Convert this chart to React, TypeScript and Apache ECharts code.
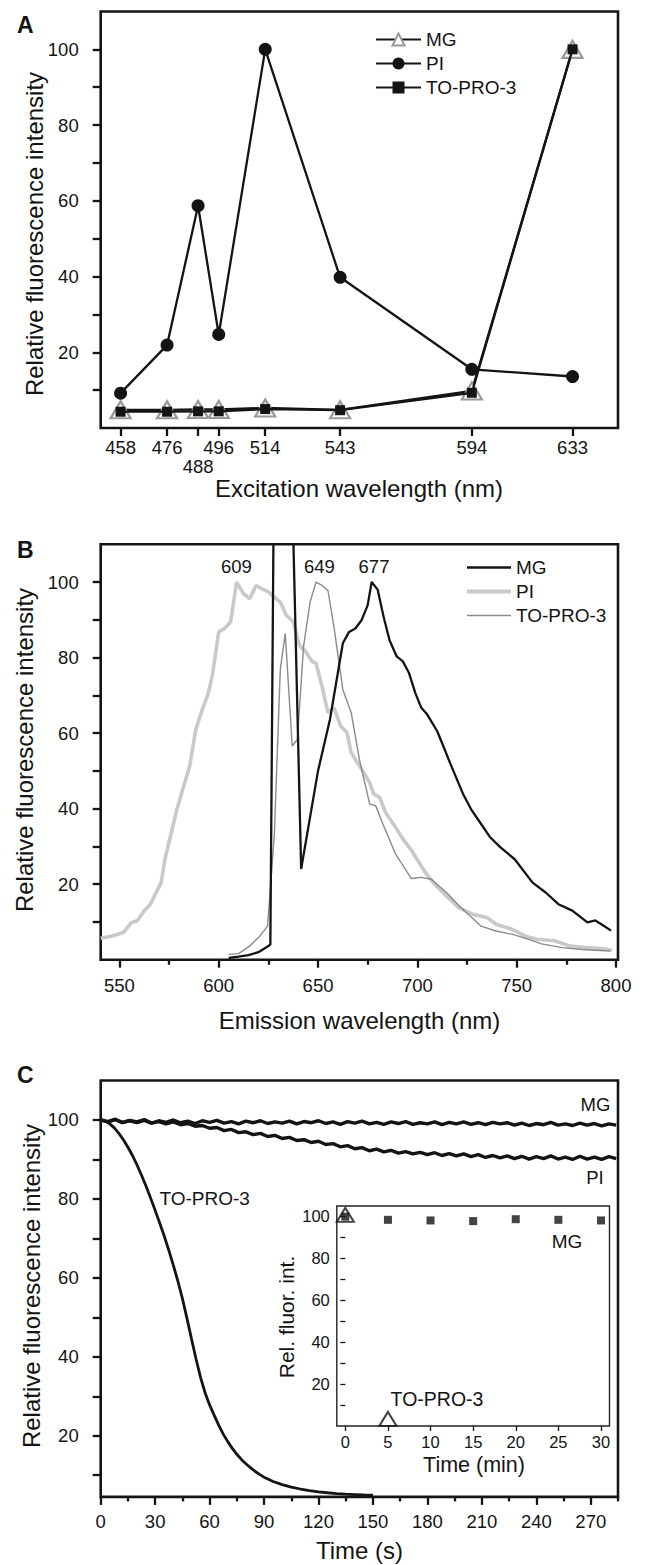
import React, { useEffect, useRef } from 'react';
import * as echarts from 'echarts';

const FONT = '"Liberation Sans", Arial, Helvetica, sans-serif';
const INK = '#141414';

// ---------- Panel A: excitation ----------
const exWavelengths = [458, 476, 488, 496, 514, 543, 594, 633];
const exMG = [4.8, 4.8, 4.9, 4.9, 5.3, 4.8, 9.8, 100];
const exPI = [9.2, 21.9, 58.7, 24.7, 100, 39.8, 15.5, 13.6];
const exTOPRO3 = [4.3, 4.3, 4.4, 4.4, 5.0, 4.7, 9.3, 100];
const yTicksMain = [10, 20, 30, 40, 50, 60, 70, 80, 90, 100];
const yLabelsMain = [20, 40, 60, 80, 100];

// ---------- Panel B: emission spectra [nm, value] ----------
const emMG = [
  [605, 0.5], [610, 0.8], [615, 1.2], [620, 2], [624, 3.3], [626, 4], [630, 280],
  [641.5, 24], [650, 50], [656, 63.6], [662.5, 83.8], [665.6, 86.8], [668.8, 87.7],
  [671.9, 89.9], [675, 93.9], [677, 100], [680, 98], [683, 90.8], [686, 84.6],
  [689.6, 80.3], [692.7, 79], [695.8, 75.9], [699, 70.6], [702, 66.7], [705, 64.9],
  [710, 60.5], [713.5, 56], [716.7, 51.8], [723, 43.9], [727, 39.9], [732, 36],
  [736.5, 32.5], [741.7, 29.8], [749, 26.6], [758, 20.4], [764.6, 17.8], [771, 14.7],
  [778, 13], [785.6, 9.9], [789.6, 10.4], [793.8, 9], [797.5, 7.7]
];
const emPI = [
  [540.6, 5.7], [546, 6.2], [552, 7.2], [556, 9.8], [559, 10.3], [562.5, 12.9], [565.6, 14.7],
  [571, 20.4], [573, 26.8], [579, 39.9], [585.4, 51.3], [588.5, 61], [591.7, 66.2],
  [594.8, 70.6], [597, 75.9], [600, 86.8], [603, 87.7], [606, 89.5], [609, 100],
  [612.5, 96.9], [615.6, 95.6], [618.8, 99.1], [621.9, 98.2], [625, 97.4], [628, 96],
  [631, 94.7], [634, 91.2], [637.5, 89.5], [640.6, 83.3], [643.8, 81.6], [646.9, 79],
  [649, 78.5], [652, 72.4], [655, 65.4], [658, 66.7], [661.5, 61.8], [664.6, 60.1],
  [666.7, 54.8], [669.8, 52.2], [673, 49.6], [676, 46.9], [678, 43.9], [681, 43],
  [684, 39], [688.5, 35.5], [692.7, 32], [697, 29], [704, 23.1], [708, 20.4],
  [714.6, 16.9], [720.8, 13.8], [728, 12], [735, 11.2], [739.6, 9.4], [748, 8],
  [754, 6.3], [760, 5.4], [769, 5], [777, 3.6], [785, 3.2], [794, 2.9], [798, 2.5]
];
const emTOPRO3 = [
  [605, 1.4], [610, 1.6], [615.6, 3.6], [620.8, 6.3], [624.6, 8.9], [628, 33],
  [631, 76.8], [633.5, 86.4], [637, 56.6], [639.6, 58.3], [642.7, 82.9], [646, 94.7],
  [649, 100], [652, 99.1], [655, 97.8], [658, 88.2], [662.5, 71.5], [666.7, 65.4],
  [670.8, 53.1], [676, 41.2], [679, 40.8], [683, 35.5], [689, 28], [697, 21.5],
  [702, 21.8], [707, 21.3], [714.6, 17.8], [721.9, 13.8], [732, 8.9], [739.6, 7.6],
  [748, 6.7], [756, 5.4], [762.5, 4.2], [773, 3.2], [783, 2.7], [797, 2.3]
];
const emTicks = [550, 600, 650, 700, 750, 800];
const emMinorTicks = [575, 625, 675, 725, 775];

// ---------- Panel C: photobleaching ----------
const tTrace = [
  0, 4, 8, 12, 16, 20, 24, 28, 32, 36, 40, 44, 48, 52, 56, 60, 64, 68, 72, 76, 80, 84, 88, 92,
  96, 100, 104, 108, 112, 116, 120, 124, 128, 132, 136, 140, 144, 148, 152, 156, 160, 164,
  168, 172, 176, 180, 184, 188, 192, 196, 200, 204, 208, 212, 216, 220, 224, 228, 232, 236,
  240, 244, 248, 252, 256, 260, 264, 268, 272, 276, 280, 284
];
const traceMG = [
  100.0, 99.6, 100.2, 99.3, 99.9, 99.5, 100.1, 99.2, 99.8, 99.4, 100.0, 99.3, 99.7, 99.1,
  99.8, 99.4, 99.9, 99.2, 99.6, 99.0, 99.7, 99.3, 99.8, 99.1, 99.5, 99.2, 99.7, 99.0, 99.6,
  99.3, 99.8, 99.1, 99.5, 98.9, 99.6, 99.2, 99.7, 99.0, 99.4, 98.9, 99.5, 99.1, 99.6, 98.9,
  99.3, 99.0, 99.5, 98.8, 99.4, 99.0, 99.5, 98.9, 99.3, 98.8, 99.4, 99.0, 99.3, 98.7, 99.2,
  98.6, 99.1, 98.8, 99.4, 98.7, 99.0, 98.6, 99.2, 98.7, 99.1, 98.5, 99.0, 98.7
];
const tracePI = [
  100.0, 99.5, 100.1, 99.4, 99.8, 99.3, 99.9, 99.2, 99.6, 99.0, 99.5, 98.8, 99.1, 98.4,
  98.6, 97.9, 98.1, 97.3, 97.6, 96.8, 97.0, 96.3, 96.6, 95.8, 96.1, 95.3, 95.6, 94.8, 95.0,
  94.3, 94.6, 93.8, 94.0, 93.2, 93.5, 92.7, 93.0, 92.2, 92.6, 91.9, 92.3, 91.6, 92.0, 91.4,
  91.8, 91.2, 91.7, 91.0, 91.5, 90.9, 91.4, 90.7, 91.2, 90.5, 91.0, 90.4, 90.9, 90.2, 90.8,
  90.1, 90.7, 90.2, 90.9, 90.1, 90.6, 90.0, 90.8, 90.1, 90.6, 90.0, 90.7, 90.2
];
const tTOPRO3 = [
  0, 2.5, 5, 7.5, 10, 12.5, 15, 17.5, 20, 22.5, 25, 27.5, 30, 32.5, 35, 37.5, 40, 42.5, 45,
  47.5, 50, 52.5, 55, 57.5, 60, 62.5, 65, 67.5, 70, 72.5, 75, 77.5, 80, 82.5, 85, 87.5, 90,
  95, 100, 105, 110, 115, 120, 125, 130, 135, 140, 145, 150
];
const bleachTOPRO3 = [
  100, 99.7, 99.0, 98.0, 96.6, 95.0, 93.1, 91.0, 88.6, 86.0, 83.2, 80.2, 77.1, 73.9, 70.6,
  67.0, 63.2, 59.2, 54.8, 49.8, 44.6, 39.5, 34.8, 30.9, 27.8, 25.2, 22.7, 20.4, 18.5, 16.8,
  15.3, 14.0, 12.9, 11.9, 11.0, 10.2, 9.5, 8.4, 7.6, 7.0, 6.5, 6.1, 5.8, 5.55, 5.35, 5.2,
  5.1, 5.0, 4.95
];
const timeTicks = [0, 30, 60, 90, 120, 150, 180, 210, 240, 270];
const timeMinorTicks = [15, 45, 75, 105, 135, 165, 195, 225, 255, 285];

// ---------- Inset ----------
const insetTime = [0, 5, 10, 15, 20, 25, 30];
const insetMG = [99.9, 98.4, 98.1, 97.8, 98.7, 98.4, 98.1];
const insetTOTime = [0, 5];
const insetTOPRO3 = [100.8, 3.4];
const insetXTicks = [0, 5, 10, 15, 20, 25, 30];

const pairs = (xs: number[], ys: number[]) => xs.map((x, i) => [x, ys[i]]);

function txt(text: string, x: number, y: number, size: number, opts: any = {}) {
  return {
    type: 'text',
    x,
    y,
    rotation: opts.rot ? Math.PI / 2 : 0,
    silent: true,
    z: 100,
    style: {
      text,
      fill: INK,
      font: `${opts.bold ? 'bold ' : ''}${size}px ${FONT}`,
      fontSize: size,
      fontFamily: FONT,
      fontWeight: opts.bold ? 'bold' : 'normal',
      align: opts.align || 'center',
      textAlign: opts.align || 'center',
      verticalAlign: 'middle',
      textVerticalAlign: 'middle'
    }
  };
}

const lineIcon = (w: number) => `path://M0 0H44V${w}H0Z`;

function buildOption(): any {
  const labelText = { color: INK, fontFamily: FONT, fontSize: 18.5 };
  const tickLine = { color: INK, width: 2.3 };
  const gridBorder = { show: true, borderColor: INK, borderWidth: 2.6, backgroundColor: 'transparent' };
  const base = { type: 'value', axisLine: { show: false }, splitLine: { show: false } };

  const mainY = (gi: number, min: number) => ({
    ...base, gridIndex: gi, min, max: 110,
    axisTick: { show: true, length: 8, lineStyle: tickLine, customValues: yTicksMain },
    axisLabel: { ...labelText, margin: 22, customValues: yLabelsMain }
  });

  return {
    animation: false,
    backgroundColor: '#ffffff',
    textStyle: { fontFamily: FONT, color: INK },
    grid: [
      { left: 100.7, top: 11.5, width: 517.3, height: 416.5, ...gridBorder },
      { left: 100.7, top: 544.3, width: 517.3, height: 415.4, ...gridBorder },
      { left: 100.7, top: 1080.5, width: 517.3, height: 416.4, ...gridBorder },
      { left: 336.8, top: 1206, width: 272.7, height: 220, show: true, borderColor: '#222', borderWidth: 1.4, backgroundColor: '#fff' }
    ],
    xAxis: [
      {
        ...base, gridIndex: 0, min: 450.3, max: 650.6,
        axisTick: { show: true, length: 8, lineStyle: tickLine, customValues: exWavelengths },
        axisLabel: {
          ...labelText, margin: 10, lineHeight: 19, customValues: exWavelengths,
          formatter: (v: number) => (v === 488 ? '\n488' : String(v))
        }
      },
      {
        ...base, gridIndex: 1, min: 540.6, max: 801,
        axisTick: { show: true, length: 8, lineStyle: tickLine, customValues: emTicks },
        axisLabel: { ...labelText, margin: 16, customValues: emTicks }
      },
      {
        ...base, gridIndex: 1, min: 540.6, max: 801, position: 'bottom',
        axisTick: { show: true, length: 5, lineStyle: tickLine, customValues: emMinorTicks },
        axisLabel: { show: false }
      },
      {
        ...base, gridIndex: 2, min: 0, max: 285,
        axisTick: { show: true, length: 8, lineStyle: tickLine, customValues: timeTicks },
        axisLabel: { ...labelText, margin: 15.5, customValues: timeTicks }
      },
      {
        ...base, gridIndex: 2, min: 0, max: 285, position: 'bottom',
        axisTick: { show: true, length: 4.5, lineStyle: tickLine, customValues: timeMinorTicks },
        axisLabel: { show: false }
      },
      {
        ...base, gridIndex: 3, min: -1, max: 31,
        axisTick: { show: true, length: 5, lineStyle: { color: INK, width: 1.3 }, customValues: insetXTicks },
        axisLabel: { color: INK, fontFamily: FONT, fontSize: 16.5, margin: 7.5, customValues: insetXTicks }
      }
    ],
    yAxis: [
      mainY(0, 0),
      mainY(1, 0),
      mainY(2, 4.5),
      {
        ...base, gridIndex: 3, min: 0, max: 105,
        axisTick: { show: true, length: 5, lineStyle: { color: INK, width: 1.3 }, customValues: yTicksMain },
        axisLabel: { color: INK, fontFamily: FONT, fontSize: 16.5, margin: 7, customValues: yLabelsMain }
      }
    ],
    legend: [
      {
        data: ['MG', 'PI', 'TO-PRO-3'], orient: 'vertical', left: 370, top: 25,
        itemWidth: 45, itemHeight: 15, itemGap: 5, selectedMode: false,
        textStyle: { color: INK, fontFamily: FONT, fontSize: 19 }
      },
      {
        data: [
          { name: 'MG ', icon: lineIcon(2.4) },
          { name: 'PI ', icon: lineIcon(3.8) },
          { name: 'TO-PRO-3 ', icon: lineIcon(1.4) }
        ],
        orient: 'vertical', left: 462, top: 553, symbolKeepAspect: true,
        itemWidth: 44, itemHeight: 14, itemGap: 5, selectedMode: false,
        formatter: (n: string) => n.trim(),
        textStyle: { color: INK, fontFamily: FONT, fontSize: 19 }
      }
    ],
    series: [
      // Panel A
      {
        name: 'MG', type: 'line', xAxisIndex: 0, yAxisIndex: 0, data: pairs(exWavelengths, exMG),
        symbol: 'triangle', symbolSize: [20, 17],
        itemStyle: { color: '#ffffff', borderColor: '#9a9a9a', borderWidth: 2.2 },
        lineStyle: { color: INK, width: 2.3 }, z: 2
      },
      {
        name: 'PI', type: 'line', xAxisIndex: 0, yAxisIndex: 0, data: pairs(exWavelengths, exPI),
        symbol: 'circle', symbolSize: 13, itemStyle: { color: INK },
        lineStyle: { color: INK, width: 2.3 }, z: 3
      },
      {
        name: 'TO-PRO-3', type: 'line', xAxisIndex: 0, yAxisIndex: 0, data: pairs(exWavelengths, exTOPRO3),
        symbol: 'rect', symbolSize: 10, itemStyle: { color: INK },
        lineStyle: { color: INK, width: 2.3 }, z: 4
      },
      // Panel B
      {
        name: 'PI ', type: 'line', xAxisIndex: 1, yAxisIndex: 1, data: emPI, symbol: 'none',
        itemStyle: { color: '#c9c9c9' }, lineStyle: { color: '#c9c9c9', width: 3.6 }, z: 2
      },
      {
        name: 'TO-PRO-3 ', type: 'line', xAxisIndex: 1, yAxisIndex: 1, data: emTOPRO3, symbol: 'none',
        itemStyle: { color: '#8a8a8a' }, lineStyle: { color: '#8a8a8a', width: 1.4 }, z: 3
      },
      {
        name: 'MG ', type: 'line', xAxisIndex: 1, yAxisIndex: 1, data: emMG, symbol: 'none',
        itemStyle: { color: INK }, lineStyle: { color: INK, width: 2.3 }, z: 4
      },
      // Panel C
      {
        name: 'MG trace', type: 'line', xAxisIndex: 3, yAxisIndex: 2, data: pairs(tTrace, traceMG),
        symbol: 'none', lineStyle: { color: INK, width: 3.4 }, z: 3
      },
      {
        name: 'PI trace', type: 'line', xAxisIndex: 3, yAxisIndex: 2, data: pairs(tTrace, tracePI),
        symbol: 'none', lineStyle: { color: INK, width: 3.4 }, z: 3
      },
      {
        name: 'TO-PRO-3 trace', type: 'line', xAxisIndex: 3, yAxisIndex: 2, data: pairs(tTOPRO3, bleachTOPRO3),
        symbol: 'none', lineStyle: { color: INK, width: 2.8 }, z: 3
      },
      // Inset
      {
        name: 'MG inset', type: 'scatter', xAxisIndex: 5, yAxisIndex: 3, data: pairs(insetTime, insetMG),
        symbol: 'rect', symbolSize: 8, itemStyle: { color: INK }, z: 6
      },
      {
        name: 'TO-PRO-3 inset', type: 'scatter', xAxisIndex: 5, yAxisIndex: 3, data: pairs(insetTOTime, insetTOPRO3),
        symbol: 'triangle', symbolSize: [17, 14],
        itemStyle: { color: 'rgba(0,0,0,0)', borderColor: INK, borderWidth: 2 }, z: 7
      }
    ],
    graphic: {
      elements: [
        txt('A', 17, 25, 23, { bold: true, align: 'left' }),
        txt('B', 17, 550, 23, { bold: true, align: 'left' }),
        txt('C', 17, 1075, 23, { bold: true, align: 'left' }),
        txt('Relative fluorescence intensity', 34.5, 234, 24, { rot: true }),
        txt('Excitation wavelength (nm)', 359, 488, 24),
        txt('Relative fluorescence intensity', 24, 750, 24, { rot: true }),
        txt('Emission wavelength (nm)', 359.5, 1020, 24),
        txt('609', 236.4, 566, 18.5),
        txt('649', 319.4, 566, 18.5),
        txt('677', 374, 566, 18.5),
        txt('Relative fluorescence intensity', 31, 1286, 24, { rot: true }),
        txt('Time (s)', 359.5, 1550, 24),
        txt('MG', 595.5, 1104, 18.5),
        txt('PI', 595, 1177, 18.5),
        txt('TO-PRO-3', 204.6, 1198, 19),
        txt('MG', 567, 1241, 19),
        txt('TO-PRO-3', 437, 1399, 19.5),
        txt('Rel. fluor. int.', 286, 1317, 21, { rot: true }),
        txt('Time (min)', 474, 1465, 21.5)
      ]
    }
  };
}

export default function App() {
  const ref = useRef<HTMLDivElement>(null);
  useEffect(() => {
    if (!ref.current) return;
    const chart = echarts.init(ref.current, null, { renderer: 'svg' });
    chart.setOption(buildOption());
    return () => chart.dispose();
  }, []);
  return (
    <div
      ref={ref}
      style={{ position: 'absolute', left: 0, top: 0, width: 645, height: 1565, background: '#fff' }}
    />
  );
}
